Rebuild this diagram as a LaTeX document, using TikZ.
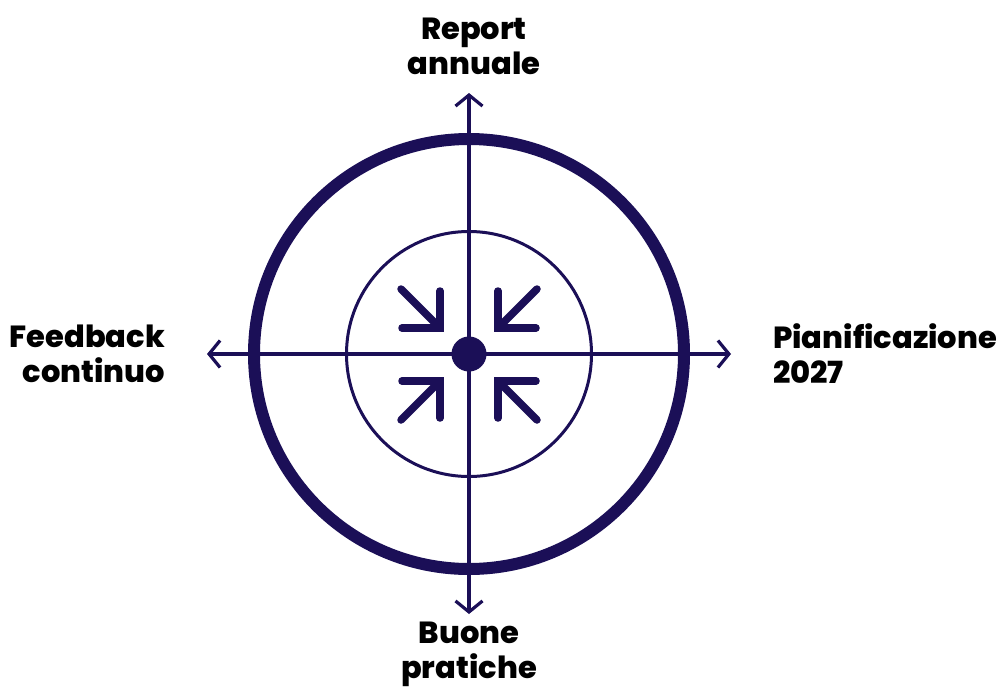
\documentclass[tikz,border=0pt]{standalone}
\usepackage{fontspec}
\setmainfont{Poppins}[BoldFont={Poppins ExtraBold}]
\usetikzlibrary{arrows.meta, positioning}
\definecolor{navy}{HTML}{1B0F57}

\begin{document}
\begin{tikzpicture}[
    x=1pt, y=-1pt,
    axis/.style={
        draw=navy,
        line width=3.2pt,
        -{Straight Barb[length=11pt, width=27pt, line width=3.2pt]}
    },
    inward/.style={
        draw=navy,
        line width=7.5pt,
        line cap=round,
        line join=miter
    },
    label/.style={
        align=center,
        font=\bfseries\fontsize{30.5}{35}\selectfont,
        text=black,
        inner sep=0pt
    }
]

\useasboundingbox (0,0) rectangle (1005,689);

% ------------------------------------------------
% Circles and centre
% ------------------------------------------------

\coordinate (centre) at (469,354);

\draw[navy, line width=12pt] (centre) circle[radius=215];
\draw[navy, line width=3pt] (centre) circle[radius=122.5];

% ------------------------------------------------
% Axes
% ------------------------------------------------

\coordinate (north) at (469,93);
\coordinate (south) at (469,614);
\coordinate (west) at (207,354);
\coordinate (east) at (731,354);

\draw[axis] (centre) -- (north);
\draw[axis] (centre) -- (south);
\draw[axis] (centre) -- (west);
\draw[axis] (centre) -- (east);

\fill[navy] (centre) circle[radius=17.5];

% ------------------------------------------------
% Arrows pointing to the centre
% ------------------------------------------------

\draw[inward] (401,289) -- (440,328);
\draw[inward] (440,291) -- (440,328) -- (402,328);

\draw[inward] (537,289) -- (498,328);
\draw[inward] (498,291) -- (498,328) -- (536,328);

\draw[inward] (401,420) -- (440,381);
\draw[inward] (440,418) -- (440,381) -- (402,381);

\draw[inward] (537,420) -- (498,381);
\draw[inward] (498,418) -- (498,381) -- (536,381);

% ------------------------------------------------
% Labels
% ------------------------------------------------

\node[label, anchor=south] (report) at ([xshift=5pt, yshift=18pt]north) {Report\\annuale};
\node[label, anchor=north] (practices) at ([yshift=-8pt]south) {Buone\\pratiche};
\node[label, anchor=east, align=right] (feedback) at ([xshift=-42pt]west) {Feedback\\continuo};
\node[label, anchor=west, align=left] (planning) at ([xshift=42pt]east) {Pianificazione\\2027};

\end{tikzpicture}
\end{document}
